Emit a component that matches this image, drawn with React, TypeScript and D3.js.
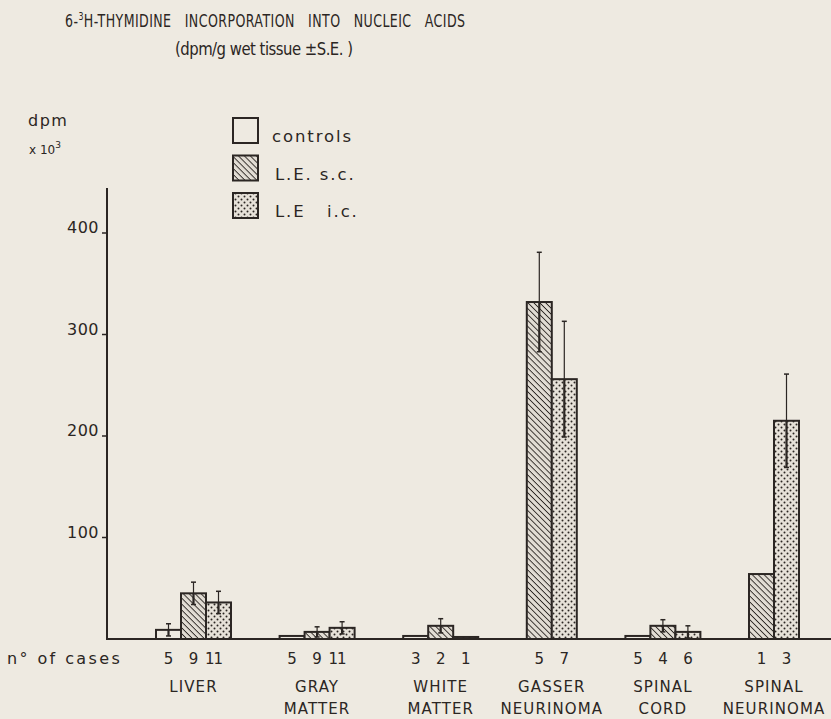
import React from "react";
import * as d3 from "d3";

const groupLine1 = ["LIVER", "GRAY", "WHITE", "GASSER", "SPINAL", "SPINAL"];
const groupLine2 = ["", "MATTER", "MATTER", "NEURINOMA", "CORD", "NEURINOMA"];
const controls: (number | null)[] = [9, 3, 3, null, 3, null];
const controlsSE: (number | null)[] = [6, null, null, null, null, null];
const controlsN: (number | null)[] = [5, 5, 3, null, 5, null];
const sc: (number | null)[] = [45, 7, 13, 332, 13, 64];
const scSE: (number | null)[] = [11, 5, 7, 49, 6, null];
const scN: (number | null)[] = [9, 9, 2, 5, 4, 1];
const ic: (number | null)[] = [36, 11, 2, 256, 7, 215];
const icSE: (number | null)[] = [11, 6, null, 57, 6, 46];
const icN: (number | null)[] = [11, 11, 1, 7, 6, 3];
const yTicks = [100, 200, 300, 400];
const seriesNames = ["controls", "L.E. s.c.", "L.E   i.c."];

const W = 831;
const H = 719;
const BG = "#eeeae1";
const INK = "#2b2623";
const FONT = "'DejaVu Sans', sans-serif";

export default function App() {
  const y = d3.scaleLinear().domain([0, 400]).range([639, 233]);
  const gapUnits = 1.944;
  const series = [
    { vals: controls, se: controlsSE, n: controlsN, fill: BG },
    { vals: sc, se: scSE, n: scN, fill: "url(#hatch)" },
    { vals: ic, se: icSE, n: icN, fill: "url(#dots)" },
  ];
  type Bar = { g: number; s: number; unit: number; v: number; se: number | null; n: number | null };
  const bars: Bar[] = [];
  const groupUnits: { start: number; end: number }[] = [];
  let u = 0;
  groupLine1.forEach((_, g) => {
    if (g > 0) u += gapUnits;
    const start = u;
    series.forEach((s, si) => {
      const v = s.vals[g];
      if (v !== null) {
        bars.push({ g, s: si, unit: u, v, se: s.se[g], n: s.n[g] });
        u += 1;
      }
    });
    groupUnits.push({ start, end: u });
  });
  const x = d3.scaleLinear().domain([0, u]).range([156, 799]);
  const bw = x(1) - x(0);
  const y0 = y(0);
  const sx = 0.72;
  const pre = { whiteSpace: "pre" as const };

  return (
    <svg
      width={W}
      height={H}
      style={{ position: "absolute", left: 0, top: 0, background: BG }}
      fontFamily={FONT}
    >
      <defs>
        <pattern id="hatch" patternUnits="userSpaceOnUse" width="4.2" height="4.2" patternTransform="rotate(45)">
          <rect width="4.2" height="4.2" fill="#e2ddd4" />
          <line x1="0" y1="0" x2="4.2" y2="0" stroke={INK} strokeWidth="1.8" />
        </pattern>
        <pattern id="dots" patternUnits="userSpaceOnUse" width="6" height="6">
          <rect width="6" height="6" fill="#e6e1d8" />
          <circle cx="1.5" cy="1.5" r="1" fill={INK} />
          <circle cx="4.5" cy="4.5" r="1" fill={INK} />
        </pattern>
      </defs>
      <rect width={W} height={H} fill={BG} />

      {/* Title */}
      <g transform={`translate(65,27) scale(${sx},1)`}>
        <text x={0} y={0} fontSize={17.5} fill={INK} style={pre} textLength={400 / sx} lengthAdjust="spacing">
          6-<tspan dy={-7} fontSize={11}>3</tspan>
          <tspan dy={7}>H-THYMIDINE   INCORPORATION   INTO   NUCLEIC   ACIDS</tspan>
        </text>
      </g>
      <g transform={`translate(175,55) scale(0.85,1)`}>
        <text x={0} y={0} fontSize={17.5} fill={INK} style={pre} textLength={178 / 0.85} lengthAdjust="spacing">
          (dpm/g wet tissue ±S.E. )
        </text>
      </g>

      {/* y unit label */}
      <text x={28} y={126} fontSize={16} fill={INK} letterSpacing={1.5}>dpm</text>
      <text x={29} y={154} fontSize={12} fill={INK}>
        x 10<tspan dy={-6} fontSize={9}>3</tspan>
      </text>

      {/* Legend */}
      {seriesNames.map((name, i) => (
        <g key={name}>
          <rect
            x={233}
            y={118 + i * 37.5}
            width={25}
            height={25}
            fill={series[i].fill}
            stroke={INK}
            strokeWidth={2}
          />
          <text
            x={272 + (i > 0 ? 3 : 0)}
            y={142 + i * 37.5}
            fontSize={16.5}
            fill={INK}
            letterSpacing={1.9}
            style={pre}
          >
            {name}
          </text>
        </g>
      ))}

      {/* Y axis */}
      <line x1={107} x2={107} y1={188} y2={y0} stroke={INK} strokeWidth={2} />
      {yTicks.map((t) => (
        <g key={t}>
          <line x1={102} x2={107} y1={y(t)} y2={y(t)} stroke={INK} strokeWidth={1.5} />
          <text x={99} y={y(t)} textAnchor="end" fontSize={16} fill={INK} letterSpacing={0.5}>
            {t}
          </text>
        </g>
      ))}

      {/* Bars */}
      {bars.map((b, i) => (
        <rect
          key={i}
          x={x(b.unit)}
          y={y(b.v)}
          width={bw}
          height={y0 - y(b.v)}
          fill={series[b.s].fill}
          stroke={INK}
          strokeWidth={2}
        />
      ))}
      {/* Error bars */}
      {bars
        .filter((b) => b.se !== null)
        .map((b, i) => {
          const cx = x(b.unit) + bw / 2;
          const top = y(b.v + (b.se as number));
          const bot = y(Math.max(0, b.v - (b.se as number)));
          return (
            <g key={"e" + i} stroke={INK}>
              <line x1={cx} x2={cx} y1={top} y2={y(b.v)} strokeWidth={1.2} />
              <line x1={cx} x2={cx} y1={y(b.v)} y2={bot} strokeWidth={2.2} />
              <line x1={cx - 2.5} x2={cx + 2.5} y1={top} y2={top} strokeWidth={1.5} />
              <line x1={cx - 2.5} x2={cx + 2.5} y1={bot} y2={bot} strokeWidth={1.5} />
            </g>
          );
        })}

      {/* Baseline */}
      <line x1={106} x2={W} y1={y0} y2={y0} stroke={INK} strokeWidth={2} />

      {/* n of cases */}
      <text x={7} y={664} fontSize={16} fill={INK} letterSpacing={2.4}>
        n° of cases
      </text>
      {bars.map((b, i) =>
        b.n !== null ? (
          <text
            key={"n" + i}
            x={x(b.unit) + bw / 2 + (b.n >= 10 ? -5 : 0)}
            y={664}
            textAnchor="middle"
            fontSize={15}
            fill={INK}
            letterSpacing={b.n >= 10 ? -1 : 0}
          >
            {b.n}
          </text>
        ) : null
      )}

      {/* Group labels */}
      {groupUnits.map((gu, g) => {
        const cx = (x(gu.start) + x(gu.end)) / 2;
        return (
          <g key={"g" + g}>
            <text x={cx} y={692} textAnchor="middle" fontSize={15} fill={INK} letterSpacing={1.1}>
              {groupLine1[g]}
            </text>
            {groupLine2[g] ? (
              <text x={cx} y={714} textAnchor="middle" fontSize={15} fill={INK} letterSpacing={1.1}>
                {groupLine2[g]}
              </text>
            ) : null}
          </g>
        );
      })}
    </svg>
  );
}
